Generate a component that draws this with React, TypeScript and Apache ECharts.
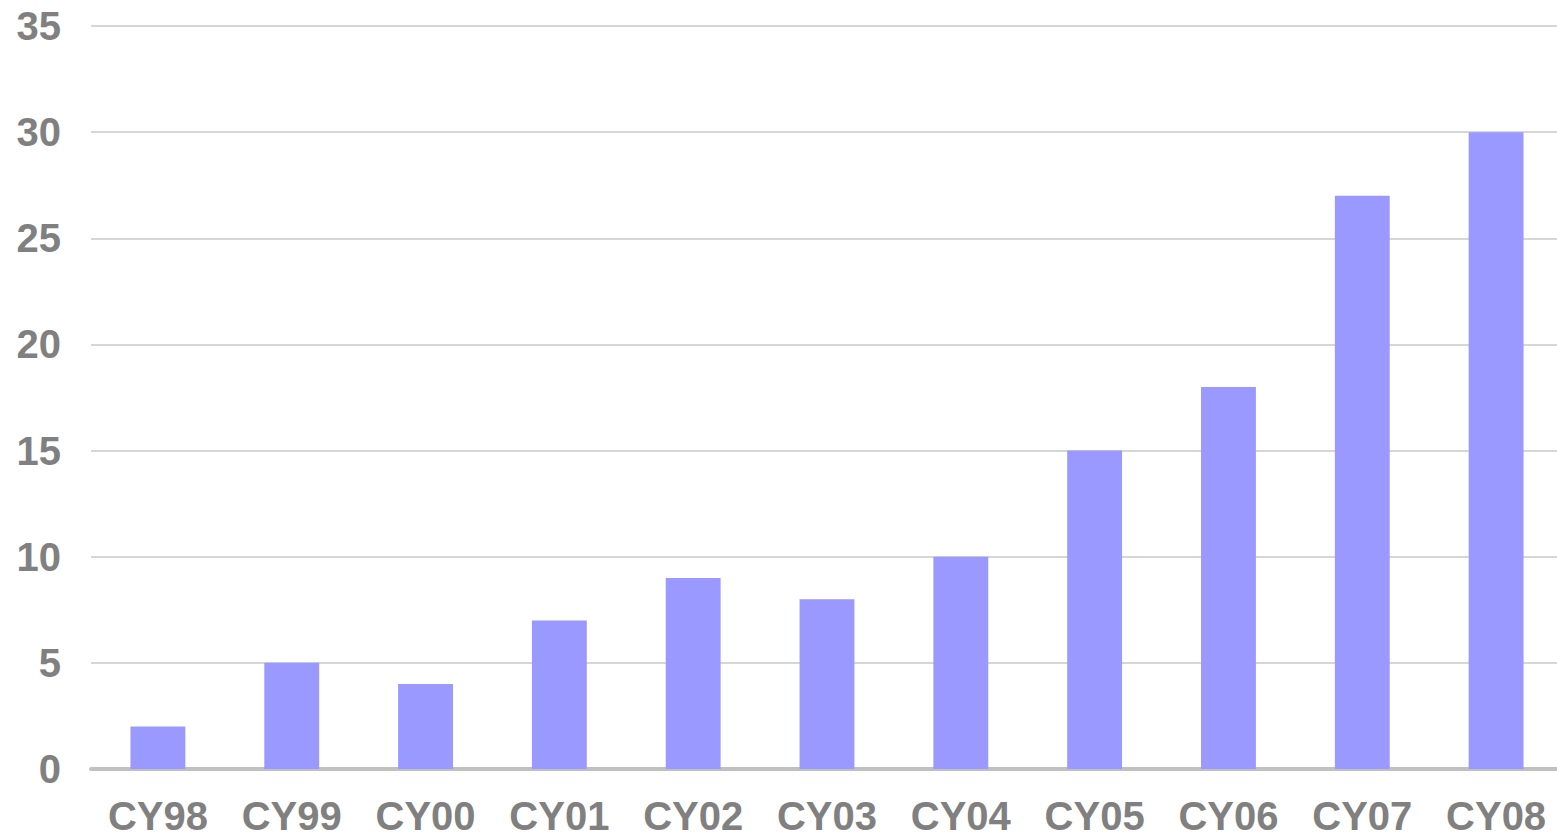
import React, { useEffect, useRef } from "react";
import * as echarts from "echarts";

const categories = ["CY98", "CY99", "CY00", "CY01", "CY02", "CY03", "CY04", "CY05", "CY06", "CY07", "CY08"];
const values = [2, 5, 4, 7, 9, 8, 10, 15, 18, 27, 30];
const yMin = 0;
const yMax = 35;
const yInterval = 5;

export default function App() {
  const ref = useRef<HTMLDivElement>(null);
  useEffect(() => {
    document.body.style.margin = "0";
    const chart = echarts.init(ref.current!, null, { renderer: "svg" });
    chart.setOption({
      animation: false,
      backgroundColor: "#ffffff",
      grid: {
        left: 91,
        width: 1472,
        top: 26,
        bottom: 67,
        containLabel: false,
        outerBoundsMode: "none",
      },
      xAxis: {
        type: "category",
        data: categories,
        axisTick: { show: false },
        axisLine: { show: true, lineStyle: { color: "#c0c0c0", width: 4, cap: "round" } },
        axisLabel: {
          color: "#808080",
          fontFamily: "Liberation Sans, Arial, sans-serif",
          fontWeight: "bold",
          fontSize: 40,
          lineHeight: 30,
          margin: 32,
          interval: 0,
        },
      },
      yAxis: {
        type: "value",
        min: yMin,
        max: yMax,
        interval: yInterval,
        axisLine: { show: false },
        axisTick: { show: false },
        splitLine: { show: true, lineStyle: { color: "#c8c8c8", width: 1.5 } },
        axisLabel: {
          color: "#808080",
          fontFamily: "Liberation Sans, Arial, sans-serif",
          fontWeight: "bold",
          fontSize: 40,
          margin: 30,
        },
      },
      series: [
        {
          type: "bar",
          data: values,
          barWidth: "41%",
          itemStyle: { color: "#9999ff" },
        },
      ],
    });
    return () => chart.dispose();
  }, []);
  return <div ref={ref} style={{ width: 1557, height: 836 }} />;
}
